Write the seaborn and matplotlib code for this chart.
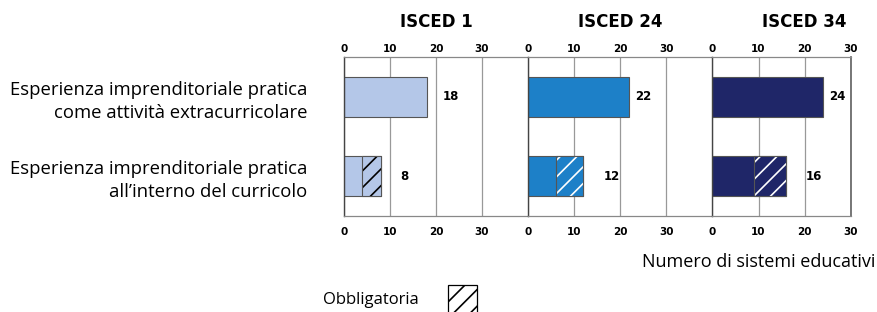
import numpy as np
import pandas as pd
import seaborn as sns
import matplotlib.pyplot as plt
from matplotlib.patches import Rectangle

levels = ["ISCED 1", "ISCED 24", "ISCED 34"]
rows = [
    "Esperienza imprenditoriale pratica\ncome attività extracurricolare",
    "Esperienza imprenditoriale pratica\nall\u2019interno del curricolo",
]
extracurr = [18, 22, 24]
curr_total = [8, 12, 16]
curr_compulsory = [4, 6, 7]
colors = ["#b4c7e8", "#1d80c8", "#1f2668"]
hatch_colors = ["#000000", "#ffffff", "#ffffff"]
xmax = [40, 40, 30]

sns.set_theme(style="white")
plt.rcParams["font.family"] = ["DejaVu Sans"]
plt.rcParams["text.color"] = "black"
plt.rcParams["xtick.color"] = "black"
plt.rcParams["ytick.color"] = "black"
plt.rcParams["hatch.linewidth"] = 1.2
label_font = ["Open Sans", "DejaVu Sans"]

fig = plt.figure(figsize=(8.77, 3.12), dpi=100)
gs = fig.add_gridspec(1, 3, width_ratios=xmax, wspace=0,
                      left=0.392, right=0.970, top=0.817, bottom=0.308)

edge = "#555555"
for i, lvl in enumerate(levels):
    ax = fig.add_subplot(gs[0, i])
    df = pd.DataFrame({"row": rows, "value": [extracurr[i], curr_total[i]]})
    sns.barplot(data=df, x="value", y="row", orient="h", color=colors[i],
                saturation=1, width=0.5, edgecolor=edge, linewidth=0.8, ax=ax)
    # compulsory part drawn on top of the curriculum bar
    solid = curr_total[i] - curr_compulsory[i]
    plt.rcParams["hatch.color"] = hatch_colors[i]
    ax.barh(1, curr_compulsory[i], left=solid, height=0.5, color=colors[i],
            hatch="//", edgecolor=hatch_colors[i], linewidth=0)
    ax.barh(1, curr_compulsory[i], left=solid, height=0.5, fill=False,
            edgecolor=edge, linewidth=0.8)

    top_off = 3.5 if i == 0 else 1.3
    for y, v, off in zip([0, 1], [extracurr[i], curr_total[i]], [top_off, 4.3]):
        ax.text(v + off, y, str(v), va="center", ha="left",
                fontsize=8.5, fontweight="bold", color="black")

    ax.set_xlim(0, xmax[i])
    ax.set_ylim(1.5, -0.5)
    ax.set_xticks([0, 10, 20, 30])
    ax.xaxis.grid(True, color="#999999", linewidth=0.9)
    ax.set_axisbelow(True)
    ax.tick_params(axis="x", which="both", top=False, bottom=False, length=0,
                   labelbottom=True, labelsize=7.5, pad=8)
    for lab in ax.get_xticklabels():
        lab.set_fontweight("bold")
    sec = ax.secondary_xaxis("top")
    sec.set_xticks([0, 10, 20, 30])
    sec.tick_params(axis="x", length=0, labelsize=7.5, pad=2.5)
    sec.spines["top"].set_visible(False)
    for lab in sec.get_xticklabels():
        lab.set_fontweight("bold")
    ax.set_xlabel("")
    ax.set_ylabel("")
    for s in ["top", "bottom"]:
        ax.spines[s].set_color("#888888")
        ax.spines[s].set_linewidth(0.9)
    ax.spines["left"].set_color("#444444")
    ax.spines["left"].set_linewidth(1.0)
    ax.spines["right"].set_visible(i == 2)
    ax.spines["right"].set_color("#666666")
    ax.text(20, 1.22, lvl, transform=ax.get_xaxis_transform(), ha="center",
            va="center", fontsize=12, fontweight="bold")
    if i == 0:
        ax.tick_params(axis="y", left=False, length=0, pad=26)
        for lab in ax.get_yticklabels():
            lab.set_fontfamily(label_font)
            lab.set_fontsize(13.3)
            lab.set_horizontalalignment("right")
            lab.set_multialignment("right")
            lab.set_linespacing(1.35)
    else:
        ax.set_yticks([])

fig.text(0.998, 0.16, "Numero di sistemi educativi", ha="right", va="center",
         fontsize=13, family=label_font)
fig.text(0.368, 0.04, "Obbligatoria", ha="left", va="center",
         fontsize=12, family=label_font)
plt.rcParams["hatch.color"] = "black"
fig.patches.append(Rectangle((0.511, -0.01), 0.033, 0.095, transform=fig.transFigure,
                             facecolor="white", edgecolor="black", hatch="//",
                             linewidth=0.9))

fig.savefig("out.png", dpi=100)
